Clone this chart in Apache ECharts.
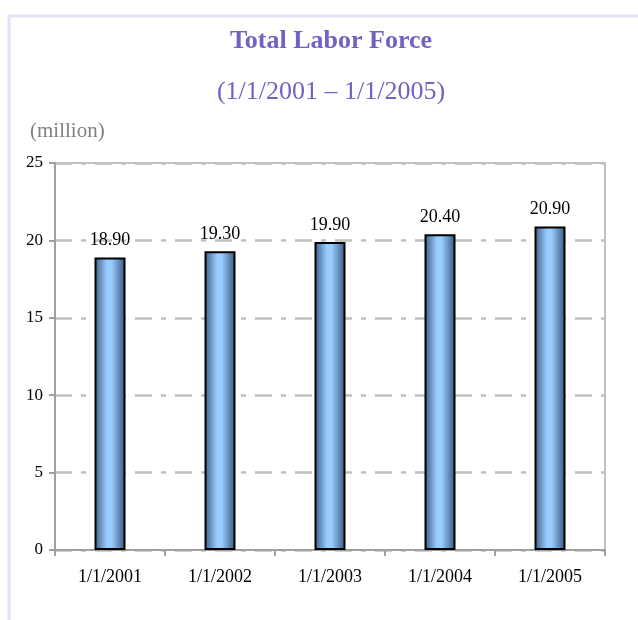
<!DOCTYPE html>
<html>
<head>
<meta charset="utf-8">
<script src="https://cdn.jsdelivr.net/npm/echarts@6/dist/echarts.min.js"></script>
<style>
  html, body { margin: 0; padding: 0; background: #fff; }
  #chart { width: 638px; height: 620px; }
</style>
</head>
<body>
<div id="chart"></div>
<script>
// chart data
const dates = ["1/1/2001", "1/1/2002", "1/1/2003", "1/1/2004", "1/1/2005"];
const laborForce = [18.9, 19.3, 19.9, 20.4, 20.9];
const yTicks = [0, 5, 10, 15, 20, 25];

const serif = "'Liberation Serif', 'Times New Roman', serif";
const purple = "#7163C1";
const gridGray = "#C0C0C0";

const chart = echarts.init(document.getElementById("chart"));

chart.setOption({
  backgroundColor: "#fff",
  animation: false,
  textStyle: { fontFamily: serif },
  graphic: [
    {
      type: "rect",
      shape: { x: 9, y: 16, width: 700, height: 700 },
      style: { fill: "none", stroke: "#E3E3F7", lineWidth: 3 },
      silent: true
    },
    {
      type: "text",
      left: 30,
      top: 121,
      style: { text: "(million)", fill: "#808080", font: "21px " + serif }
    }
  ],
  title: {
    text: "Total Labor Force",
    subtext: "(1/1/2001 \u2013 1/1/2005)",
    left: 326,
    textAlign: "center",
    top: 23,
    itemGap: 25,
    textStyle: { fontFamily: serif, fontSize: 26, fontWeight: "bold", color: purple },
    subtextStyle: { fontFamily: serif, fontSize: 26, color: purple }
  },
  grid: {
    left: 55,
    right: 33,
    top: 163,
    bottom: 70,
    show: true,
    borderColor: gridGray,
    borderWidth: 2,
    backgroundColor: "transparent"
  },
  xAxis: {
    type: "category",
    data: dates,
    axisLine: { lineStyle: { color: "#A0A0A0", width: 2 } },
    axisTick: { show: true, length: 6, lineStyle: { color: "#A0A0A0", width: 2 } },
    axisLabel: { color: "#000", fontFamily: serif, fontSize: 18, margin: 18 }
  },
  yAxis: {
    type: "value",
    min: yTicks[0],
    max: yTicks[yTicks.length - 1],
    interval: yTicks[1] - yTicks[0],
    axisLine: { show: true, lineStyle: { color: "#A0A0A0", width: 2 } },
    axisTick: { show: true, length: 6, lineStyle: { color: "#A0A0A0", width: 2 } },
    axisLabel: { color: "#000", fontFamily: serif, fontSize: 17, margin: 12 },
    splitLine: {
      lineStyle: { color: gridGray, width: 2.5, type: [17, 9, 5, 9] }
    }
  },
  series: [
    {
      type: "bar",
      data: laborForce,
      barWidth: 31,
      itemStyle: {
        borderColor: "#000",
        borderWidth: 2,
        color: new echarts.graphic.LinearGradient(0, 0, 1, 0, [
          { offset: 0, color: "#3A5A80" },
          { offset: 0.4, color: "#99CCFF" },
          { offset: 0.55, color: "#99CCFF" },
          { offset: 1, color: "#36557A" }
        ])
      },
      label: {
        show: true,
        position: "top",
        distance: 8,
        color: "#000",
        fontFamily: serif,
        fontSize: 18,
        formatter: p => p.value.toFixed(2)
      }
    }
  ]
});
</script>
</body>
</html>
